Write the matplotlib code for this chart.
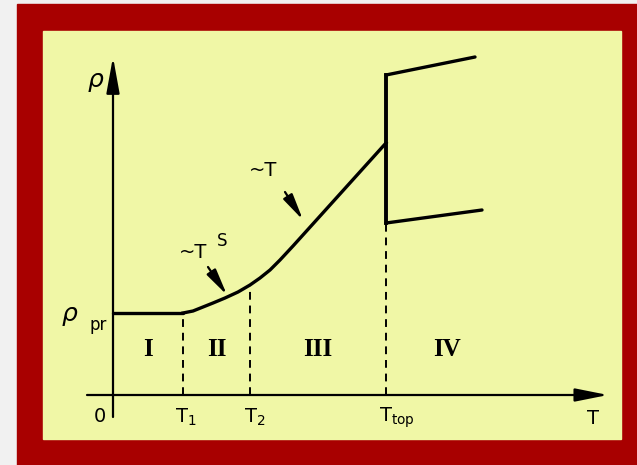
import matplotlib
matplotlib.use('Agg')
import matplotlib.pyplot as plt
from matplotlib.patches import Rectangle

# characteristic temperatures (arbitrary units)
T1 = 7.0
T2 = 13.7
Ttop = 27.3
rho_pr = 8.2

# rho(T) from T1 up to Ttop (region II power law, region III linear)
curve_T = [7.0, 8.0, 9.0, 10.0, 11.2, 12.5, 13.7, 14.7, 15.7, 16.7, 18.0, 27.3]
curve_rho = [8.2, 8.4, 8.8, 9.2, 9.7, 10.3, 11.0, 11.7, 12.5, 13.5, 14.9, 25.2]

# two branches above Ttop
upper_T = [27.3, 36.2]
upper_rho = [32.0, 33.8]
lower_T = [27.3, 36.9]
lower_rho = [17.2, 18.5]

regions = ['I', 'II', 'III', 'IV']
T_end = 39.5

fig = plt.figure(figsize=(6.37, 4.65), dpi=100)
fig.patch.set_facecolor('#f1f1f1')
fig.patches.append(Rectangle((17 / 637, 0), 1 - 17 / 637, 461 / 465,
                             transform=fig.transFigure, color='#a80000', zorder=-20))
fig.patches.append(Rectangle((43 / 637, 26 / 465), 578 / 637, 408 / 465,
                             transform=fig.transFigure, color='#f0f7a6', zorder=-10))

ax = fig.add_axes([0, 0, 1, 1])
ax.set_xlim(-11.3, 52.4)
ax.set_ylim(-7.0, 39.5)
ax.axis('off')
ax.patch.set_visible(False)

k = 'black'
# axes with arrow heads
ax.annotate('', xy=(49.5, 0), xytext=(-2.6, 0),
            arrowprops=dict(arrowstyle='-|>,head_width=0.2,head_length=1.0',
                            lw=1.6, color=k, mutation_scale=20, shrinkA=0, shrinkB=0))
ax.annotate('', xy=(0, 33.8), xytext=(0, -2.2),
            arrowprops=dict(arrowstyle='-|>,head_width=0.2,head_length=1.1',
                            lw=1.6, color=k, mutation_scale=20, shrinkA=0, shrinkB=0))

# curve
lw = 2.4
ax.plot([0, T1], [rho_pr, rho_pr], color=k, lw=lw, solid_capstyle='round')
ax.plot(curve_T, curve_rho, color=k, lw=lw, solid_joinstyle='round')
ax.plot([Ttop, Ttop], [lower_rho[0], upper_rho[0]], color=k, lw=lw + 0.4)
ax.plot(upper_T, upper_rho, color=k, lw=lw, solid_capstyle='round')
ax.plot(lower_T, lower_rho, color=k, lw=lw, solid_capstyle='round')

# dashed dividers
dash = (0, (4, 3))
ax.plot([T1, T1], [0, rho_pr], color=k, lw=1.4, ls=dash)
ax.plot([T2, T2], [0, curve_rho[curve_T.index(T2)]], color=k, lw=1.4, ls=dash)
ax.plot([Ttop, Ttop], [0, lower_rho[0]], color=k, lw=1.4, ls=dash)

# region labels
bounds = [0, T1, T2, Ttop, T_end]
for i, lab in enumerate(regions):
    ax.text((bounds[i] + bounds[i + 1]) / 2, 4.5, lab, ha='center', va='center',
            fontsize=18, fontweight='bold', family='Liberation Serif')

# tick labels
fs = 14
ax.text(-1.3, -2.1, '0', ha='center', va='center', fontsize=fs)
ax.text(T1 - 0.8, -2.2, r'T$_1$', ha='left', va='center', fontsize=fs)
ax.text(T2 - 0.6, -2.2, r'T$_2$', ha='left', va='center', fontsize=fs)
ax.text(Ttop - 0.7, -2.3, r'T$_{\rm top}$', ha='left', va='center', fontsize=fs)
ax.text(48.0, -2.3, 'T', ha='center', va='center', fontsize=fs)

ax.text(-1.7, 31.3, r'$\rho$', ha='center', va='center', fontsize=18)
ax.text(-4.3, 7.9, r'$\rho$', ha='center', va='center', fontsize=18)
ax.text(-1.5, 7.0, 'pr', ha='center', va='center', fontsize=12)

# power-law annotations
ax.text(15.0, 22.5, '~T', ha='center', va='center', fontsize=fs)
ax.annotate('', xy=(19.0, 17.5), xytext=(17.2, 20.3),
            arrowprops=dict(arrowstyle='-|>,head_width=0.2,head_length=1.0',
                            lw=1.6, color=k, mutation_scale=16, shrinkA=0, shrinkB=0))
ax.text(8.0, 14.2, '~T', ha='center', va='center', fontsize=fs)
ax.text(10.9, 15.4, 'S', ha='center', va='center', fontsize=12)
ax.annotate('', xy=(11.4, 10.0), xytext=(9.5, 12.8),
            arrowprops=dict(arrowstyle='-|>,head_width=0.2,head_length=1.0',
                            lw=1.6, color=k, mutation_scale=16, shrinkA=0, shrinkB=0))

fig.savefig('out.png', dpi=100)
